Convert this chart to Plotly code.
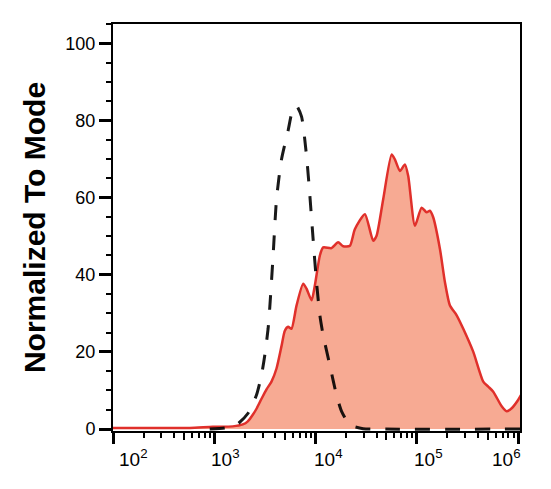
import numpy as np
import plotly.graph_objects as go

# ---- data (fluorescence intensity vs. % of mode) ----
sample_x = [100, 230, 573, 966, 1521, 1910, 2140, 2397, 2625, 2942, 3275, 3666, 4110, 4603,
            4965, 5350, 5777, 6475, 7530, 8130, 9120, 9820, 11010, 11870, 14350, 16680,
            18700, 21780, 24380, 30620, 36980, 39940, 46440, 56230, 60560, 67900, 76060,
            82000, 95500, 111200, 124500, 134300, 144600, 168600, 188800, 211700, 246600,
            286400, 359700, 451100, 505700, 566400, 685600, 767900, 860700, 1000000, 1100000]
sample_y = [0.3, 0.3, 0.3, 0.6, 0.7, 1.2, 2.0, 3.7, 5.4, 8.0, 10.3, 12.3, 15.7, 21.5,
            25.5, 26.5, 26.0, 32.0, 37.7, 36.4, 33.4, 37.2, 45.0, 47.1, 46.9, 48.4,
            47.4, 47.5, 51.8, 55.7, 48.8, 50.1, 59.6, 71.2, 69.9, 66.9, 68.6,
            65.6, 52.7, 57.4, 56.2, 56.6, 54.9, 46.7, 38.1, 32.0, 29.5,
            26.0, 20.0, 12.3, 11.0, 9.7, 5.9, 4.6, 5.4, 7.6, 9.5]

control_x = [901, 1268, 1656, 2153, 2606, 2924, 3150, 3394, 3530, 3805, 4110, 4603, 5350,
             5998, 6475, 7260, 8130, 8770, 9440, 10200, 11010, 11870, 13800, 16070, 18030,
             21780, 29440, 43050, 1100000]
control_y = [0.0, 0.3, 1.1, 4.1, 8.8, 14.0, 19.2, 26.0, 31.7, 45.0, 59.6, 69.9, 77.4,
             83.2, 83.8, 81.0, 70.8, 60.5, 49.3, 38.1, 29.5, 24.3, 16.6, 8.8, 4.6,
             1.1, 0.1, 0.0, 0.0]

x_decades = [2, 3, 4, 5, 6]
x_label_shift = [20, 11, 13, 12, -12]
y_ticks = [0, 20, 40, 60, 80, 100]
y_title = "Normalized To Mode"

FONT = "Liberation Sans"

fig = go.Figure()
fig.add_trace(go.Scatter(
    x=sample_x, y=sample_y, mode="lines",
    line=dict(color="#E0302B", width=2.5, shape="spline", smoothing=0.6),
    fill="tozeroy", fillcolor="#F7AA93", hoverinfo="skip", showlegend=False))
fig.add_trace(go.Scatter(
    x=control_x, y=control_y, mode="lines",
    line=dict(color="rgba(0,0,0,0.9)", width=3, dash="15px,15px", shape="spline", smoothing=0.6),
    hoverinfo="skip", showlegend=False))
# empty trace to host the medium-tick axis
fig.add_trace(go.Scatter(x=[], y=[], xaxis="x2", showlegend=False, hoverinfo="skip"))

xr = [2, 6.017]
fig.update_layout(
    width=551, height=489,
    margin=dict(l=113, r=31, t=24, b=58),
    paper_bgcolor="white", plot_bgcolor="white",
    font=dict(family=FONT, color="black"),
    xaxis=dict(
        type="log", range=xr,
        tickvals=[10 ** d for d in x_decades], showticklabels=False,
        ticks="outside", ticklen=11, tickwidth=3, tickcolor="black",
        minor=dict(ticks="outside", dtick="D1", ticklen=5, tickwidth=1.5, tickcolor="black", showgrid=False),
        showline=True, linecolor="black", linewidth=2, mirror=True,
        showgrid=False, zeroline=False),
    xaxis2=dict(
        type="log", range=xr, overlaying="x", anchor="y", side="bottom",
        tickvals=[5 * 10 ** d for d in x_decades[:-1]], showticklabels=False,
        ticks="outside", ticklen=8, tickwidth=1.5, tickcolor="black",
        showline=False, showgrid=False, zeroline=False),
    yaxis=dict(
        range=[-0.5, 105], tickvals=y_ticks,
        ticks="outside", ticklen=12, tickwidth=3, tickcolor="black",
        minor=dict(ticks="outside", dtick=5, ticklen=5, tickwidth=1.5, tickcolor="black", showgrid=False),
        tickfont=dict(family=FONT, size=18, color="black"),
        showline=True, linecolor="black", linewidth=2, mirror=True,
        showgrid=False, zeroline=False,
        title=dict(text=y_title, font=dict(family=FONT, size=30, weight="bold", color="black"),
                   standoff=11)),
)

for d, sh in zip(x_decades, x_label_shift):
    fig.add_annotation(
        x=d, xref="x", y=0, yref="paper", yanchor="top", yshift=-13, xshift=sh,
        text=f"10<sup>{d}</sup>", showarrow=False,
        font=dict(family=FONT, size=19, color="black"))

fig.write_html("out.html", config={"displayModeBar": False},
               post_script="document.body.style.margin='0';")
